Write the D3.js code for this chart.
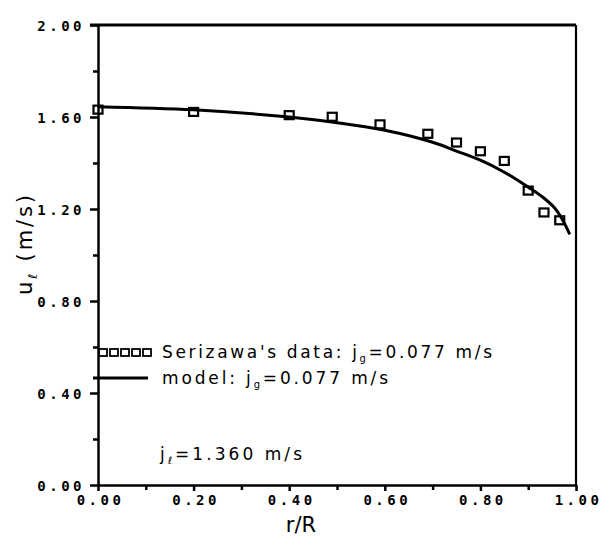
<!DOCTYPE html>
<meta charset="utf-8">
<style>
body { margin: 0; background: #fff; }
.axis path, .axis line { stroke: #000; stroke-width: 2.5; }
.axis text {
  font-family: "DejaVu Sans Mono", monospace;
  font-weight: bold;
  font-size: 14px;
  letter-spacing: 3.5px;
  fill: #000;
}
.lbl { font-family: "DejaVu Sans", sans-serif; fill: #000; }
</style>
<body>
<script src="https://d3js.org/d3.v7.min.js"></script>
<script>

// ---- data ----
// Serizawa's measured points
var dataR = [0.00, 0.20, 0.40, 0.49, 0.59, 0.69, 0.75, 0.80, 0.85, 0.90, 0.933, 0.966];
var dataU = [1.632, 1.622, 1.608, 1.601, 1.568, 1.527, 1.489, 1.451, 1.409, 1.280, 1.185, 1.151];

// model curve
var modelR = [0.00, 0.20, 0.40, 0.50, 0.60, 0.70, 0.75, 0.80, 0.85, 0.90, 0.93, 0.955, 0.97, 0.987];
var modelU = [1.645, 1.631, 1.600, 1.575, 1.542, 1.490, 1.452, 1.412, 1.360, 1.295, 1.252, 1.205, 1.160, 1.090];

var xTicks = [0, 0.2, 0.4, 0.6, 0.8, 1.0];
var xMinor = [0.1, 0.3, 0.5, 0.7, 0.9];
var yTicks = [0, 0.4, 0.8, 1.2, 1.6, 2.0];
var yMinor = [0.2, 0.6, 1.0, 1.4, 1.8];

// ---- setup ----
var W = 603, H = 537;
var m = {left: 98, right: 576, top: 25, bottom: 485};

var x = d3.scaleLinear().domain([0, 1]).range([m.left, m.right]);
var y = d3.scaleLinear().domain([0, 2]).range([m.bottom, m.top]);

var svg = d3.select("body").append("svg")
    .attr("width", W)
    .attr("height", H);

// minor ticks
svg.append("g")
    .attr("class", "axis")
    .attr("transform", "translate(0," + m.bottom + ")")
    .call(d3.axisBottom(x).tickValues(xMinor).tickSize(5).tickSizeOuter(0).tickFormat(""))
    .select(".domain").remove();

svg.append("g")
    .attr("class", "axis")
    .attr("transform", "translate(" + m.left + ",0)")
    .call(d3.axisLeft(y).tickValues(yMinor).tickSize(5).tickSizeOuter(0).tickFormat(""))
    .select(".domain").remove();

// major axes
var xAxis = svg.append("g")
    .attr("class", "axis")
    .attr("transform", "translate(0," + m.bottom + ")")
    .call(d3.axisBottom(x).tickValues(xTicks).tickSize(6).tickSizeOuter(0)
        .tickFormat(d3.format(".2f")));
xAxis.selectAll("text").attr("y", 10).attr("dx", "2");

var yAxis = svg.append("g")
    .attr("class", "axis")
    .attr("transform", "translate(" + m.left + ",0)")
    .call(d3.axisLeft(y).tickValues(yTicks).tickSize(8).tickSizeOuter(0)
        .tickFormat(d3.format(".2f")));
yAxis.selectAll("text").attr("x", -13).attr("dy", "0.36em");

// top and right frame
svg.append("line")
    .attr("x1", m.left - 8).attr("x2", m.right)
    .attr("y1", y(2)).attr("y2", y(2))
    .attr("stroke", "#000").attr("stroke-width", 3);
svg.append("line")
    .attr("x1", m.right).attr("x2", m.right)
    .attr("y1", y(2)).attr("y2", y(0))
    .attr("stroke", "#000").attr("stroke-width", 2.2);

// model line
var line = d3.line()
    .x(function(d, i) { return x(modelR[i]); })
    .y(function(d) { return y(d); })
    .curve(d3.curveCatmullRom.alpha(0.5));

svg.append("path")
    .datum(modelU)
    .attr("d", line)
    .attr("fill", "none")
    .attr("stroke", "#000")
    .attr("stroke-width", 3);

// data squares
svg.selectAll(".pt")
    .data(dataU)
    .enter().append("rect")
    .attr("class", "pt")
    .attr("x", function(d, i) { return x(dataR[i]) - 4.5; })
    .attr("y", function(d) { return y(d) - 4; })
    .attr("width", 9)
    .attr("height", 8)
    .attr("fill", "none")
    .attr("stroke", "#000")
    .attr("stroke-width", 2.2);

// legend
var legend = svg.append("g");
legend.selectAll("rect")
    .data([0, 1, 2, 3, 4])
    .enter().append("rect")
    .attr("x", function(d) { return 99 + d * 11; })
    .attr("y", 349)
    .attr("width", 8)
    .attr("height", 7)
    .attr("fill", "none")
    .attr("stroke", "#000")
    .attr("stroke-width", 1.8);

legend.append("line")
    .attr("x1", 93).attr("x2", 148)
    .attr("y1", 378).attr("y2", 378)
    .attr("stroke", "#000").attr("stroke-width", 3);

var t1 = legend.append("text").attr("class", "lbl")
    .attr("x", 162).attr("y", 358).attr("font-size", 17)
    .attr("textLength", 330).attr("lengthAdjust", "spacing");
t1.append("tspan").text("Serizawa's data:  j");
t1.append("tspan").attr("font-size", 10).attr("dy", 4).text("g");
t1.append("tspan").attr("dy", -4).text("=0.077  m/s");

var t2 = legend.append("text").attr("class", "lbl")
    .attr("x", 162).attr("y", 384).attr("font-size", 17)
    .attr("textLength", 226).attr("lengthAdjust", "spacing");
t2.append("tspan").text("model:  j");
t2.append("tspan").attr("font-size", 10).attr("dy", 4).text("g");
t2.append("tspan").attr("dy", -4).text("=0.077  m/s");

var t3 = svg.append("text").attr("class", "lbl")
    .attr("x", 160).attr("y", 460).attr("font-size", 17)
    .attr("textLength", 142).attr("lengthAdjust", "spacing");
t3.append("tspan").text("j");
t3.append("tspan").attr("font-size", 10).attr("dy", 4).text("ℓ");
t3.append("tspan").attr("dy", -4).text("=1.360  m/s");

// axis titles
svg.append("text").attr("class", "lbl")
    .attr("x", 301).attr("y", 532)
    .attr("font-size", 21)
    .attr("text-anchor", "middle")
    .text("r/R");

var yl = svg.append("text").attr("class", "lbl")
    .attr("transform", "translate(32,245) rotate(-90)")
    .attr("font-size", 21)
    .attr("text-anchor", "middle")
    .attr("textLength", 100).attr("lengthAdjust", "spacing");
yl.append("tspan").text("u");
yl.append("tspan").attr("font-size", 12).attr("dy", 5).text("ℓ");
yl.append("tspan").attr("dy", -5).text("  (m/s)");

</script>
</body>
